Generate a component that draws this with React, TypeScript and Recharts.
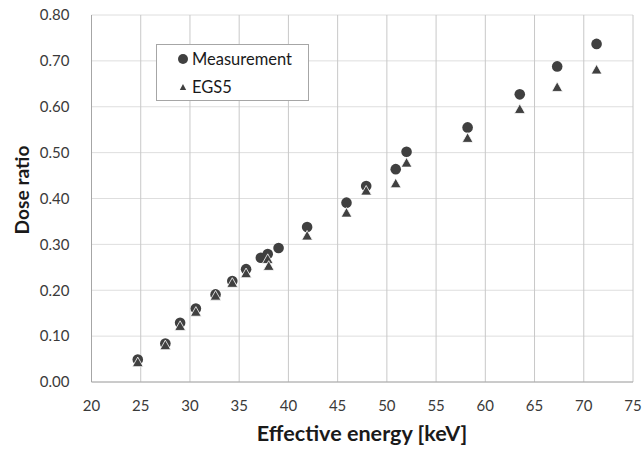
import React from "react";
import {
  ScatterChart,
  Scatter,
  XAxis,
  YAxis,
  CartesianGrid,
  Legend,
  Label,
} from "recharts";

const measurementX = [24.7, 27.5, 29.0, 30.6, 32.6, 34.3, 35.7, 37.2, 37.9, 39.0, 41.9, 45.9, 47.9, 50.9, 52.0, 58.2, 63.5, 67.3, 71.3];
const measurementY = [0.049, 0.084, 0.129, 0.160, 0.191, 0.220, 0.246, 0.271, 0.279, 0.292, 0.338, 0.391, 0.427, 0.464, 0.502, 0.555, 0.627, 0.688, 0.737];

const egs5X = [24.7, 27.5, 29.0, 30.6, 32.6, 34.3, 35.7, 37.9, 38.0, 41.9, 45.9, 47.9, 50.9, 52.0, 58.2, 63.5, 67.3, 71.3];
const egs5Y = [0.043, 0.080, 0.122, 0.153, 0.188, 0.216, 0.237, 0.268, 0.253, 0.319, 0.369, 0.417, 0.433, 0.478, 0.532, 0.595, 0.643, 0.681];

const xTicks = [20, 25, 30, 35, 40, 45, 50, 55, 60, 65, 70, 75];
const yTicks = [0, 0.1, 0.2, 0.3, 0.4, 0.5, 0.6, 0.7, 0.8];

const seriesNames = ["Measurement", "EGS5"];

const measurementData = measurementX.map((x, i) => ({ x, y: measurementY[i] }));
const egs5Data = egs5X.map((x, i) => ({ x, y: egs5Y[i] }));

const MARK = "#404040";
const FONT = "Lato, 'Open Sans', sans-serif";

const CircleShape = (props: any) => {
  const { cx, cy } = props;
  if (cx == null || cy == null) return null;
  return <circle cx={cx} cy={cy} r={5.3} fill={MARK} />;
};

const TriangleShape = (props: any) => {
  const { cx, cy } = props;
  if (cx == null || cy == null) return null;
  const pts = `${cx},${cy - 5.2} ${cx + 5.4},${cy + 4.4} ${cx - 5.4},${cy + 4.4}`;
  return <polygon points={pts} fill={MARK} stroke="#ffffff" strokeWidth={0.8} />;
};

const LegendContent = (props: any) => {
  const payload = props.payload || [];
  const ordered = seriesNames
    .map((n) => payload.find((p: any) => p.value === n))
    .filter(Boolean);
  return (
    <div
      style={{
        width: 153,
        height: 57,
        boxSizing: "border-box",
        border: "1px solid #a6a6a6",
        background: "#ffffff",
        position: "relative",
        fontFamily: FONT,
        fontSize: 16.5,
        color: "#1a1a1a",
      }}
    >
      {ordered.map((entry: any, i: number) => (
        <div
          key={i}
          style={{
            position: "absolute",
            left: 20,
            top: i === 0 ? 4 : 32,
            height: 20,
            display: "flex",
            alignItems: "center",
            whiteSpace: "nowrap",
          }}
        >
          <svg width={12} height={12} style={{ marginRight: 3 }}>
            {entry.value === seriesNames[0] ? (
              <circle cx={6} cy={6} r={5} fill={MARK} />
            ) : (
              <polygon points="6,3 9.2,9 2.8,9" fill={MARK} />
            )}
          </svg>
          <span>{entry.value}</span>
        </div>
      ))}
    </div>
  );
};

export default function App() {
  return (
    <div style={{ position: "absolute", left: 0, top: 0 }}>
      <ScatterChart
        width={643}
        height={451}
        margin={{ top: 15, right: 10, bottom: 0, left: 0 }}
      >
        <CartesianGrid horizontal={true} vertical={false} stroke="#dedede" />
        <CartesianGrid horizontal={false} vertical={true} stroke="#c8c8c8" />
        <XAxis
          type="number"
          dataKey="x"
          domain={[20, 75]}
          ticks={xTicks}
          interval={0}
          tickLine={false}
          axisLine={{ stroke: "#a6a6a6" }}
          tick={{ fill: "#3a3a3a", fontSize: 15, fontFamily: FONT }}
          tickMargin={12}
          height={69}
          allowDataOverflow
        >
          <Label
            content={() => (
              <text
                x={362}
                y={441}
                textAnchor="middle"
                fontFamily={FONT}
                fontSize={21.6}
                fontWeight="bold"
                fill="#1a1a1a"
              >
                Effective energy [keV]
              </text>
            )}
          />
        </XAxis>
        <YAxis
          type="number"
          dataKey="y"
          domain={[0, 0.8]}
          ticks={yTicks}
          interval={0}
          tickFormatter={(v: number) => v.toFixed(2)}
          tickLine={false}
          axisLine={{ stroke: "#a6a6a6" }}
          tick={{ fill: "#3a3a3a", fontSize: 15, fontFamily: FONT }}
          tickMargin={16}
          width={91.5}
          allowDataOverflow
        >
          <Label
            content={() => (
              <text
                x={29}
                y={190}
                transform="rotate(-90 29 190)"
                textAnchor="middle"
                fontFamily={FONT}
                fontSize={19.2}
                fontWeight="bold"
                fill="#1a1a1a"
              >
                Dose ratio
              </text>
            )}
          />
        </YAxis>
        <Legend
          layout="vertical"
          align="center"
          verticalAlign="middle"
          content={<LegendContent />}
          wrapperStyle={{ left: 156, top: 44, width: 153, height: 57 }}
        />
        <Scatter
          name={seriesNames[0]}
          data={measurementData}
          fill={MARK}
          shape={<CircleShape />}
          isAnimationActive={false}
        />
        <Scatter
          name={seriesNames[1]}
          data={egs5Data}
          fill={MARK}
          shape={<TriangleShape />}
          isAnimationActive={false}
        />
      </ScatterChart>
    </div>
  );
}
